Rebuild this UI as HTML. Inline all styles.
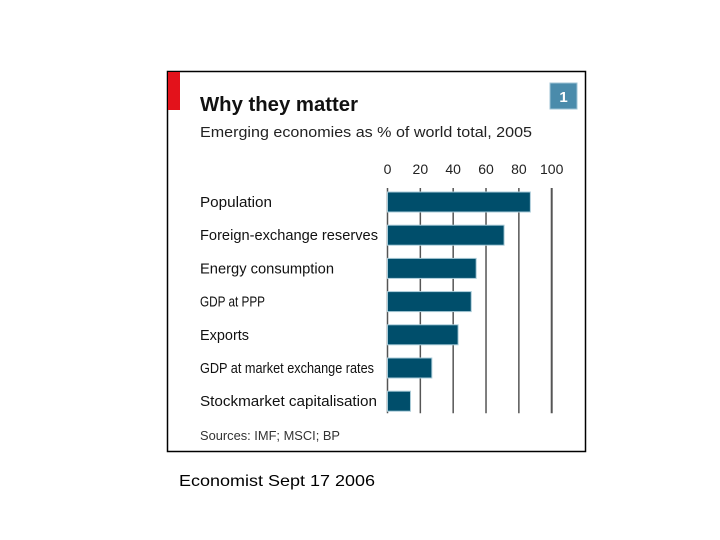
<!DOCTYPE html>
<html><head><meta charset="utf-8"><style>
body{margin:0;width:720px;height:540px;background:#fff;position:relative;font-family:"Liberation Sans",sans-serif;overflow:hidden}
</style></head><body>
<svg width="720" height="540" style="position:absolute;left:0;top:0">
<rect x="167.5" y="71.5" width="418" height="380" fill="#fff" stroke="#000" stroke-width="1.5"/>
<rect x="168" y="72" width="12" height="38" fill="#e3121b"/>
<rect x="550" y="83" width="27" height="26" fill="#4a8bab" stroke="#9fc3d4"/>
<text x="563.5" y="102" fill="#fff" font-size="15" font-weight="bold" text-anchor="middle" font-family="Liberation Sans">1</text>
<text x="200" y="111" font-size="20" font-weight="bold" fill="#111" font-family="Liberation Sans" textLength="158" lengthAdjust="spacingAndGlyphs">Why they matter</text>
<text x="200" y="137" font-size="15" fill="#222" font-family="Liberation Sans" textLength="332" lengthAdjust="spacingAndGlyphs">Emerging economies as % of world total, 2005</text>
<g id="grid"></g><g id="bars"></g><g id="labels"></g>
<text x="200" y="440" font-size="13" fill="#333" font-family="Liberation Sans" textLength="140" lengthAdjust="spacingAndGlyphs">Sources: IMF; MSCI; BP</text>
<text x="179" y="486" font-size="16" fill="#000" font-family="Liberation Sans" textLength="196" lengthAdjust="spacingAndGlyphs">Economist Sept 17 2006</text>
</svg>
<script>
const categories=["Population","Foreign-exchange reserves","Energy consumption","GDP at PPP","Exports","GDP at market exchange rates","Stockmarket capitalisation"];
const values=[87,71,54,51,43,27,14];
const ticks=[0,20,40,60,80,100];
const labelWidths=[72,178,134,65,49,174,177];
const NS="http://www.w3.org/2000/svg";
const x=v=>387.5+v*1.642;
const y=i=>192+i*33.2;
const grid=document.getElementById('grid'),bars=document.getElementById('bars'),labels=document.getElementById('labels');
ticks.forEach(t=>{
 const l=document.createElementNS(NS,'line');
 l.setAttribute('x1',x(t));l.setAttribute('x2',x(t));l.setAttribute('y1',y(0)-4);l.setAttribute('y2',y(categories.length-1)+22);
 l.setAttribute('stroke','#555');l.setAttribute('stroke-width',t===100?2:1.5);
 
 
 grid.appendChild(l);
 const tx=document.createElementNS(NS,'text');
 tx.setAttribute('x',x(t));tx.setAttribute('y',174);tx.setAttribute('text-anchor','middle');tx.setAttribute('font-size','14');tx.setAttribute('fill','#222');tx.setAttribute('font-family','Liberation Sans');
 tx.textContent=t;
 
 
 grid.appendChild(tx);
});
categories.forEach((c,i)=>{
 const r=document.createElementNS(NS,'rect');
 r.setAttribute('x',x(0));r.setAttribute('y',y(i));r.setAttribute('width',x(values[i])-x(0));r.setAttribute('height',20);
 r.setAttribute('fill','#004e6b');r.setAttribute('stroke','#a9cbd8');r.setAttribute('stroke-width','1');
 
 
 bars.appendChild(r);
 const tx=document.createElementNS(NS,'text');
 tx.setAttribute('x',200);tx.setAttribute('y',y(i)+15);tx.setAttribute('font-size','15');tx.setAttribute('fill','#111');tx.setAttribute('font-family','Liberation Sans');
 tx.setAttribute('textLength',labelWidths[i]);tx.setAttribute('lengthAdjust','spacingAndGlyphs');
 tx.textContent=c;
 
 
 labels.appendChild(tx);
});
</script>
</body></html>
